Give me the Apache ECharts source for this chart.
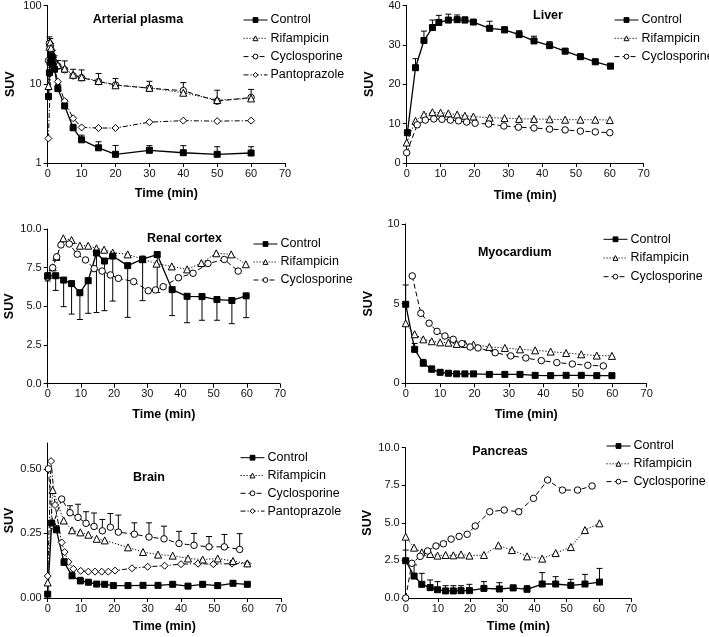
<!DOCTYPE html>
<html><head><meta charset="utf-8">
<script src="https://cdn.jsdelivr.net/npm/echarts@6/dist/echarts.min.js"></script>
<style>html,body{margin:0;padding:0;background:#fff}#c{width:709px;height:637px}</style>
</head><body><div id="c"></div>
<script>
// ---------- DATA ----------
// Arterial plasma (log scale)
const plasmaControl = [[0.25,7.0],[0.5,14],[0.75,19],[1,23],[1.25,21],[1.5,18],[2,15.5],[3,8.8],[5,5.3],[7.5,2.8],[10,1.97],[15,1.56],[20,1.29],[30,1.45],[40,1.35],[50,1.29],[60,1.34]];
const plasmaControlErr = [null,18,24,28,27,24,19,10,6.3,3.1,2.26,1.86,1.67,1.66,1.66,1.61,1.61];
const plasmaRif = [[0.25,9.5],[0.5,30],[0.75,34],[1,29],[1.5,24],[2,20],[3,17.5],[5,15.8],[7.5,13.2],[10,12.3],[15,11],[20,9.7],[30,9.0],[40,7.8],[50,6.3],[60,6.6]];
const plasmaRifErr = [null,40,38,33,27,23,20,19.8,15.5,15.2,13.7,11.8,10.9,10.5,8.4,8.6];
const plasmaCyc = [[0.25,20],[0.5,33],[0.75,30],[1,27],[1.5,22],[2,19],[3,17],[5,15.3],[7.5,12.8],[10,12.1],[15,10.8],[20,9.8],[30,8.9],[40,8.3],[50,6.1],[60,6.8]];
const plasmaPanto = [[0.2,2.05],[1,20],[2,16],[3,10.8],[5,6.1],[7.5,3.7],[10,2.83],[15,2.78],[20,2.78],[30,3.3],[40,3.45],[50,3.4],[60,3.45]];

// Liver
const liverControl = [[0.2,7.7],[2.6,24.2],[5.1,31.1],[7.6,34.4],[9.5,35.7],[12.3,36.3],[14.9,36.4],[17.2,36.3],[19.7,35.8],[24.5,34.2],[28.9,33.8],[33.2,32.6],[37.6,31.0],[42.2,29.8],[46.8,28.4],[51.3,27.0],[55.7,25.7],[60.2,24.6]];
const liverControlErr = [null,26.5,33.5,36.3,37.5,37.8,37.6,37.1,null,36.0,34.6,33.6,32.2,30.8,29.1,27.6,26.4,25.3];
const liverRif = [[0,5.2],[2.6,10.7],[5.1,12.3],[7.6,12.9],[10,12.8],[12.3,12.6],[14.9,12.3],[17.2,12.0],[19.7,11.8],[24.5,11.5],[28.9,11.4],[33.2,11.2],[37.6,11.2],[42.2,11.1],[46.8,11.0],[51.3,11.0],[55.7,11.0],[60,10.9]];
const liverCyc = [[0,2.6],[3.1,9.7],[5.5,10.9],[8,11.2],[10.4,11.1],[12.9,10.9],[15.3,10.7],[17.7,10.4],[20.2,10.1],[24.2,9.9],[28.7,9.4],[33,9.1],[37.6,8.9],[42.2,8.6],[46.8,8.4],[51.3,8.1],[55.7,7.9],[60,7.7]];

// Renal cortex
const renalControl = [[0,6.98],[2.4,6.98],[4.8,6.7],[7.2,6.47],[9.7,5.88],[12.2,6.66],[14.7,8.45],[17.1,7.93],[19.6,8.25],[24.1,7.63],[28.6,8.05],[33,8.35],[37.5,6.08],[42,5.65],[46.5,5.63],[51,5.44],[55.5,5.38],[59.8,5.68]];
const renalControlErr = [6.64,6.03,4.98,4.5,4.15,4.55,4.6,4.72,5.34,4.29,5.37,5.9,4.4,3.94,4.1,4.1,3.88,4.27];
const renalRif = [[0,7.0],[1.5,7.52],[2.6,8.2],[4.7,9.4],[7.2,9.29],[9.7,8.92],[12.2,8.92],[14.7,8.75],[17.0,8.66],[19.6,8.47],[24.1,8.36],[28.6,8.05],[32.8,7.76],[37.4,7.58],[42,7.39],[46.3,7.8],[50.8,8.43],[55.3,8.36],[59.7,7.72]];
const renalCyc = [[0,6.9],[1.5,7.5],[2.7,8.2],[4.0,8.97],[6.5,9.03],[8.9,8.37],[11.4,8.0],[14.0,7.44],[16.4,7.28],[18.9,7.03],[21.3,6.81],[25.9,6.6],[30.3,6.01],[32.5,6.06],[34.8,6.27],[39.4,6.85],[43.8,7.14],[48.3,7.77],[53.2,8.03],[57.4,7.28]];

// Myocardium
const myoControl = [[0,4.96],[2.6,2.13],[5.1,1.26],[7.55,0.88],[10,0.69],[12.4,0.63],[14.8,0.59],[17.2,0.59],[19.7,0.59],[24.3,0.56],[28.8,0.56],[33.2,0.56],[37.6,0.5],[42.1,0.48],[46.6,0.5],[51,0.5],[55.5,0.48],[59.9,0.48]];
const myoControlErr = [6.17,2.5,1.5,1.09,0.84,null,null,null,null,null,null,null,null,null,null,null,null,null];
const myoRif = [[0,3.77],[2.6,3.08],[5.1,2.76],[7.55,2.64],[10,2.57],[12.4,2.55],[14.8,2.47],[17.2,2.47],[19.7,2.43],[24.3,2.28],[28.8,2.22],[33.2,2.13],[37.6,2.07],[42.1,1.99],[46.6,1.9],[51,1.82],[55.5,1.74],[59.9,1.72]];
const myoCyc = [[1.9,6.74],[4.4,4.39],[6.8,3.77],[9.1,3.26],[11.4,2.97],[13.8,2.76],[16.3,2.49],[18.7,2.28],[21,2.22],[26,1.92],[30.5,1.72],[34.9,1.59],[39.4,1.42],[43.9,1.3],[48.4,1.21],[52.9,1.13],[57.4,1.09]];

// Brain
const brainControl = [[0,0.015],[1.2,0.29],[2.6,0.264],[4.9,0.138],[7.3,0.086],[9.8,0.066],[12.2,0.061],[14.7,0.054],[17.1,0.053],[19.7,0.048],[24.1,0.048],[28.6,0.049],[33.1,0.049],[37.5,0.053],[42.1,0.046],[46.5,0.053],[51,0.048],[55.6,0.057],[59.9,0.053]];
const brainControlErr = [null,null,0.28,0.152,0.1,0.08,null,null,null,null,null,null,null,null,null,null,null,null,null];
const brainRif = [[0,0.06],[1.5,0.418],[4.8,0.30],[7.3,0.262],[9.8,0.254],[12.2,0.245],[14.7,0.229],[17.1,0.223],[24.1,0.196],[28.6,0.178],[33.1,0.168],[37.5,0.164],[42.1,0.153],[46.5,0.149],[51,0.153],[55.6,0.143],[59.9,0.134]];
const brainCyc = [[0.2,0.5],[1.5,0.28],[4.2,0.383],[6.7,0.330],[9.1,0.312],[11.5,0.289],[13.9,0.277],[16.4,0.26],[18.8,0.274],[21.2,0.255],[26,0.247],[30.4,0.236],[34.9,0.229],[39.4,0.211],[43.9,0.204],[48.4,0.198],[53,0.198],[57.6,0.188]];
const brainCycErr = [null,null,null,0.357,0.363,0.334,0.329,0.304,0.327,0.321,0.291,0.291,0.278,0.258,0.25,0.238,0.246,0.249];
const brainPanto = [[0,0.085],[1,0.53],[2.2,0.36],[4.2,0.215],[5.1,0.178],[6.2,0.14],[7.7,0.113],[9.9,0.105],[12.2,0.102],[14.2,0.102],[16.2,0.102],[18.2,0.102],[20.2,0.106],[25.3,0.115],[30,0.121],[35.1,0.125],[40,0.131],[45.1,0.133],[49.7,0.131],[55.3,0.133],[59.9,0.133]];

// Pancreas
const pancControl = [[0,2.48],[2.6,1.46],[5.0,0.91],[7.6,0.69],[9.9,0.55],[12.4,0.47],[14.8,0.47],[17.2,0.49],[19.8,0.49],[24.3,0.64],[29.1,0.6],[33.4,0.67],[37.7,0.58],[42.4,0.93],[46.6,0.93],[51.3,0.84],[55.7,0.93],[60.2,1.06]];
const pancControlErr = [3.19,2.2,1.64,1.2,1.09,0.82,0.82,0.82,0.91,1.09,1.02,0.86,0.82,1.69,1.42,1.24,1.57,1.97];
const pancRif = [[0,4.08],[2.6,3.35],[5.0,3.04],[7.6,2.93],[9.9,2.82],[12.4,2.86],[14.8,2.84],[17.2,2.9],[19.8,2.82],[24.3,2.86],[28.8,3.5],[33,3.19],[37.7,2.77],[42.4,2.62],[46.6,2.99],[51.3,3.39],[55.7,4.52],[60.2,4.97]];
const pancCyc = [[0,0],[1.9,2.31],[4.5,2.77],[6.8,3.13],[9.4,3.46],[11.7,3.61],[14.1,3.92],[16.6,4.1],[19.1,4.24],[21.6,4.79],[26.1,5.74],[30.6,5.85],[35.1,5.74],[39.7,6.63],[44.1,7.85],[48.7,7.18],[53.4,7.18],[57.9,7.45]];

const panelTitles = ['Arterial plasma','Liver','Renal cortex','Myocardium','Brain','Pancreas'];
const xTicks = {min:0, max:70, interval:10};

// ---------- STYLE / LAYOUT ----------
const FONT = '"Liberation Sans", Arial, sans-serif';
const grids = [
  {left:47.7, top:5, width:237.3, height:158},
  {left:406.7, top:5.3, width:237, height:157.7},
  {left:47.7, top:229, width:232.3, height:154.7},
  {left:405.7, top:224, width:241, height:159.3},
  {left:47.7, top:443, width:233.3, height:155},
  {left:405.7, top:447.7, width:225.3, height:150.3}
];
const xNameGap = [24.5,26.5,24,25,22,22];
const yDefs = [
  {type:'log', min:1, max:100, logBase:10, fmt:v=>String(v)},
  {type:'value', min:0, max:40, interval:10, fmt:v=>String(v)},
  {type:'value', min:0, max:10, interval:2.5, fmt:v=>v.toFixed(1)},
  {type:'value', min:0, max:10, interval:5, fmt:v=>String(v)},
  {type:'value', min:0, max:0.6, interval:0.25, fmt:v=>v.toFixed(2), custom:[0,0.25,0.5]},
  {type:'value', min:0, max:10, interval:2.5, fmt:v=>v.toFixed(1)}
];
const STY = {
  Control:{symbol:'rect', size:6, fill:'#000', dash:'solid', w:1.3},
  Rifampicin:{symbol:'triangle', size:7, fill:'#fff', dash:[1.2,1.8], w:1},
  Cyclosporine:{symbol:'circle', size:6.5, fill:'#fff', dash:[5,3], w:1},
  Pantoprazole:{symbol:'diamond', size:7, fill:'#fff', dash:[5,2,1.2,2], w:1}
};
const legendPos = [
  {left:238, c:15, gap:18.3, names:['Control','Rifampicin','Cyclosporine','Pantoprazole']},
  {left:609, c:15, gap:18.3, names:['Control','Rifampicin','Cyclosporine']},
  {left:248, c:239, gap:18, names:['Control','Rifampicin','Cyclosporine']},
  {left:598, c:234.3, gap:18.7, names:['Control','Rifampicin','Cyclosporine']},
  {left:235, c:452.7, gap:17.8, names:['Control','Rifampicin','Cyclosporine','Pantoprazole']},
  {left:601, c:441, gap:17.8, names:['Control','Rifampicin','Cyclosporine']}
];
const titlePos = [[138,20],[548,16],[184.5,239],[514.7,252.7],[149,477.3],[500,451.7]];

function lineSeries(name, data, idx){
  const s = STY[name];
  return {type:'line', name, data, xAxisIndex:idx, yAxisIndex:idx, symbol:s.symbol, symbolSize:s.size,
    showAllSymbol:true, animation:false, z:3,
    lineStyle:{color:'#000', width:s.w, type:s.dash},
    itemStyle:{color:s.fill, borderColor:'#000', borderWidth:1}};
}
function errSeries(base, ends, idx){
  const data = [];
  base.forEach((p,i)=>{ if(ends[i]!=null) data.push([p[0],p[1],ends[i]]); });
  return {type:'custom', xAxisIndex:idx, yAxisIndex:idx, data, z:2, silent:true, animation:false,
    encode:{x:0, y:[1,2]},
    renderItem(params, api){
      const x=api.value(0), y=api.value(1), e=api.value(2);
      const p0=api.coord([x,y]), p1=api.coord([x,e]);
      const w=3;
      return {type:'group', children:[
        {type:'line', shape:{x1:p0[0],y1:p0[1],x2:p1[0],y2:p1[1]}, style:{stroke:'#000', lineWidth:1}},
        {type:'line', shape:{x1:p1[0]-w,y1:p1[1],x2:p1[0]+w,y2:p1[1]}, style:{stroke:'#000', lineWidth:1}}
      ]};
    }};
}

const xAxis = grids.map((g,i)=>({gridIndex:i, type:'value', min:xTicks.min, max:xTicks.max, interval:xTicks.interval,
  name:'Time (min)', nameLocation:'middle', nameGap:xNameGap[i],
  nameTextStyle:{fontFamily:FONT, fontWeight:'bold', fontSize:12.5, color:'#000'},
  axisLine:{lineStyle:{color:'#000', width:1}}, axisTick:{length:4, lineStyle:{color:'#000'}},
  axisLabel:{fontFamily:FONT, fontSize:11, color:'#111', margin:5}, splitLine:{show:false}}));
const yAxis = yDefs.map((d,i)=>{
  const o = {gridIndex:i, type:d.type, min:d.min, max:d.max,
    name:'SUV', nameLocation:'middle', nameGap:31, nameRotate:90,
    nameTextStyle:{fontFamily:FONT, fontWeight:'bold', fontSize:12.5, color:'#000'},
    axisLine:{show:true, lineStyle:{color:'#000', width:1}}, axisTick:{show:true, length:4, lineStyle:{color:'#000'}},
    axisLabel:{fontFamily:FONT, fontSize:11, color:'#111', margin:6, formatter:d.fmt},
    splitLine:{show:false}, minorTick:{show:false}};
  if(d.logBase) o.logBase=d.logBase;
  if(d.interval) o.interval=d.interval;
  if(d.custom){ o.axisLabel.customValues=d.custom; o.axisTick.customValues=d.custom; }
  return o;
});

const series = [
  errSeries(plasmaControl, plasmaControlErr, 0),
  errSeries(plasmaRif, plasmaRifErr, 0),
  lineSeries('Pantoprazole', plasmaPanto, 0),
  lineSeries('Cyclosporine', plasmaCyc, 0),
  lineSeries('Rifampicin', plasmaRif, 0),
  lineSeries('Control', plasmaControl, 0),

  errSeries(liverControl, liverControlErr, 1),
  lineSeries('Rifampicin', liverRif, 1),
  lineSeries('Cyclosporine', liverCyc, 1),
  lineSeries('Control', liverControl, 1),

  errSeries(renalControl, renalControlErr, 2),
  lineSeries('Rifampicin', renalRif, 2),
  lineSeries('Cyclosporine', renalCyc, 2),
  lineSeries('Control', renalControl, 2),

  errSeries(myoControl, myoControlErr, 3),
  lineSeries('Rifampicin', myoRif, 3),
  lineSeries('Cyclosporine', myoCyc, 3),
  lineSeries('Control', myoControl, 3),

  errSeries(brainControl, brainControlErr, 4),
  errSeries(brainCyc, brainCycErr, 4),
  lineSeries('Pantoprazole', brainPanto, 4),
  lineSeries('Rifampicin', brainRif, 4),
  lineSeries('Cyclosporine', brainCyc, 4),
  lineSeries('Control', brainControl, 4),

  errSeries(pancControl, pancControlErr, 5),
  lineSeries('Rifampicin', pancRif, 5),
  lineSeries('Cyclosporine', pancCyc, 5),
  lineSeries('Control', pancControl, 5)
];

const legend = legendPos.map(l=>({orient:'vertical', left:l.left, top:l.c-7, itemWidth:24, itemHeight:6,
  itemGap:l.gap-14, data:l.names, selectedMode:false,
  itemStyle:{borderWidth:1}, lineStyle:{width:1},
  textStyle:{fontFamily:FONT, fontSize:12.5, color:'#000', lineHeight:14, padding:[0,0,0,-2]}}));

const graphic = panelTitles.map((t,i)=>({type:'text', x:titlePos[i][0], y:titlePos[i][1],
  style:{text:t, font:'bold 12.5px '+FONT, fill:'#000', textAlign:'center', textVerticalAlign:'middle'}}));

const chart = echarts.init(document.getElementById('c'), null, {renderer:'canvas'});
chart.setOption({animation:false, backgroundColor:'#fff', grid:grids, xAxis, yAxis, series, legend, graphic});
</script></body></html>
